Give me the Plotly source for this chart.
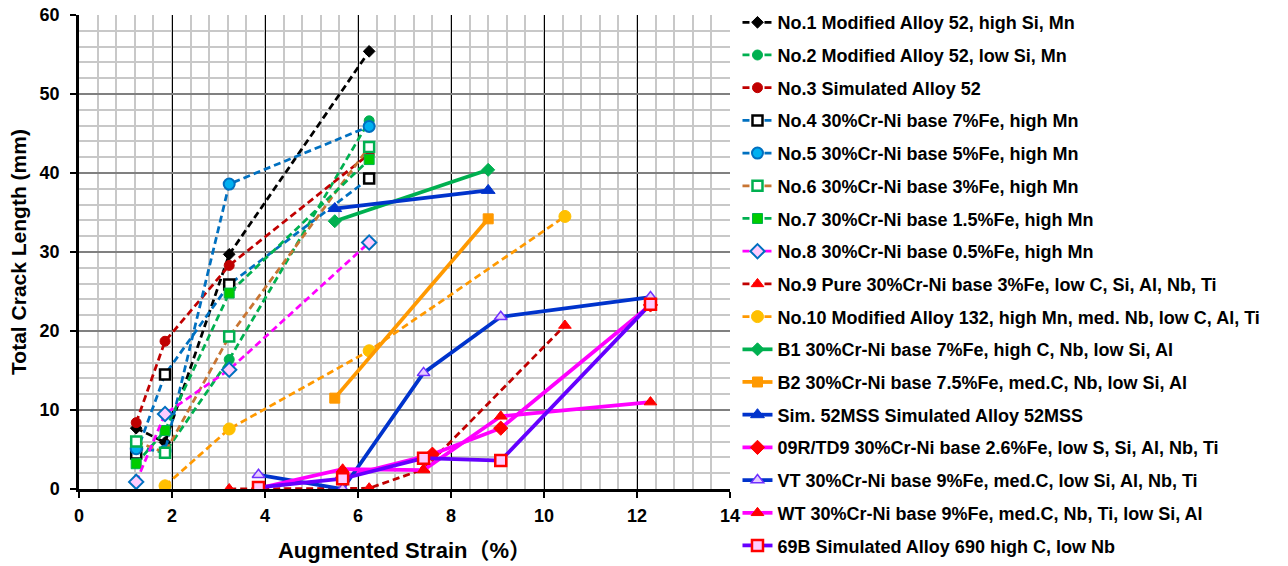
import plotly.graph_objects as go

# ---------------- data ----------------
names = [
    "No.1 Modified Alloy 52, high Si, Mn",
    "No.2 Modified Alloy 52, low Si, Mn",
    "No.3 Simulated Alloy 52",
    "No.4 30%Cr-Ni base 7%Fe, high Mn",
    "No.5 30%Cr-Ni base 5%Fe, high Mn",
    "No.6 30%Cr-Ni base 3%Fe, high Mn",
    "No.7 30%Cr-Ni base 1.5%Fe, high Mn",
    "No.8 30%Cr-Ni base 0.5%Fe, high Mn",
    "No.9 Pure 30%Cr-Ni base 3%Fe, low C, Si, Al, Nb, Ti",
    "No.10 Modified Alloy 132, high Mn, med. Nb, low C, Al, Ti",
    "B1 30%Cr-Ni base 7%Fe, high C, Nb, low Si, Al",
    "B2 30%Cr-Ni base 7.5%Fe, med.C, Nb, low Si, Al",
    "Sim. 52MSS Simulated Alloy 52MSS",
    "09R/TD9 30%Cr-Ni base 2.6%Fe, low S, Si, Al, Nb, Ti",
    "VT 30%Cr-Ni base 9%Fe, med.C, low Si, Al, Nb, Ti",
    "WT 30%Cr-Ni base 9%Fe, med.C, Nb, Ti, low Si, Al",
    "69B Simulated Alloy 690 high C, low Nb",
]

no1_x = [1.23, 1.85, 3.23, 6.24]
no1_y = [7.7, 5.9, 29.7, 55.4]
no2_x = [1.23, 1.85, 3.23, 6.24]
no2_y = [5.4, 4.6, 16.4, 46.6]
no3_x = [1.23, 1.85, 3.23, 6.24]
no3_y = [8.4, 18.7, 28.3, 42.4]
no4_x = [1.23, 1.85, 3.23, 6.24]
no4_y = [4.5, 14.5, 25.9, 39.3]
no5_x = [1.23, 1.85, 3.23, 6.24]
no5_y = [5.1, 4.8, 38.6, 45.9]
no6_x = [1.23, 1.85, 3.23, 6.24]
no6_y = [6.0, 4.6, 19.3, 43.3]
no7_x = [1.23, 1.85, 3.23, 6.24]
no7_y = [3.2, 7.4, 24.8, 41.7]
no8_x = [1.23, 1.85, 3.23, 6.24]
no8_y = [0.9, 9.5, 15.1, 31.2]
no9_x = [3.23, 6.24, 7.41, 10.45]
no9_y = [0.0, 0.1, 2.5, 20.7]
no10_x = [1.85, 3.23, 6.24, 10.45]
no10_y = [0.4, 7.6, 17.5, 34.5]
b1_x = [5.5, 8.8]
b1_y = [33.9, 40.4]
b2_x = [5.5, 8.8]
b2_y = [11.5, 34.2]
sim_x = [5.5, 8.8]
sim_y = [35.5, 37.8]
td9_x = [5.67, 7.6, 9.07, 12.29]
td9_y = [1.5, 4.4, 7.7, 23.3]
vt_x = [3.86, 5.67, 7.41, 9.07, 12.29]
vt_y = [1.8, 0.0, 14.7, 21.8, 24.3]
wt_x = [3.86, 5.67, 7.41, 9.07, 12.29]
wt_y = [0.1, 2.5, 2.4, 9.2, 11.0]
b69_x = [3.86, 5.67, 7.41, 9.07, 12.29]
b69_y = [0.2, 1.3, 3.9, 3.6, 23.4]

x_ticks = [0, 2, 4, 6, 8, 10, 12, 14]
y_ticks = [0, 10, 20, 30, 40, 50, 60]

# ---------------- styles ----------------
DASH = "7px,4px"
DW = 2.75
SW = 3.75
styles = [
    dict(x=no1_x, y=no1_y, lc="#000000", dash=DASH, lw=DW, sym="diamond", ms=9, mf="#000000", me="#000000", mw=1),
    dict(x=no2_x, y=no2_y, lc="#00B050", dash=DASH, lw=DW, sym="circle", ms=10, mf="#00B050", me="#00B050", mw=1),
    dict(x=no3_x, y=no3_y, lc="#C00000", dash=DASH, lw=DW, sym="circle", ms=10, mf="#C00000", me="#C00000", mw=1),
    dict(x=no4_x, y=no4_y, lc="#0070C0", dash=DASH, lw=DW, sym="square", ms=10, mf="#FFFFFF", me="#000000", mw=2.5),
    dict(x=no5_x, y=no5_y, lc="#0070C0", dash=DASH, lw=DW, sym="circle", ms=11, mf="#00B0F0", me="#0070C0", mw=2),
    dict(x=no6_x, y=no6_y, lc="#C87533", dash=DASH, lw=DW, sym="square", ms=10, mf="#FFFFFF", me="#00B050", mw=2.5),
    dict(x=no7_x, y=no7_y, lc="#00B050", dash=DASH, lw=DW, sym="square", ms=10, mf="#00CC00", me="#00B050", mw=1),
    dict(x=no8_x, y=no8_y, lc="#FF00FF", dash=DASH, lw=DW, sym="diamond", ms=11, mf="#FFCCFF", me="#0070C0", mw=2),
    dict(x=no9_x, y=no9_y, lc="#C00000", dash=DASH, lw=DW, sym="triangle-up", ms=11, mf="#FF0000", me="#FF0000", mw=1),
    dict(x=no10_x, y=no10_y, lc="#FF9900", dash=DASH, lw=DW, sym="circle", ms=12, mf="#FFC000", me="#FFC000", mw=1),
    dict(x=b1_x, y=b1_y, lc="#00B050", dash="solid", lw=SW, sym="diamond", ms=10, mf="#00B050", me="#00B050", mw=1),
    dict(x=b2_x, y=b2_y, lc="#FF9900", dash="solid", lw=SW, sym="square", ms=10, mf="#FF9900", me="#FF9900", mw=1),
    dict(x=sim_x, y=sim_y, lc="#0033CC", dash="solid", lw=SW, sym="triangle-up", ms=12, mf="#0033CC", me="#0033CC", mw=1),
    dict(x=td9_x, y=td9_y, lc="#FF00FF", dash="solid", lw=SW, sym="diamond", ms=11, mf="#FF0000", me="#FF0000", mw=1),
    dict(x=vt_x, y=vt_y, lc="#0033CC", dash="solid", lw=SW, sym="triangle-up", ms=11, mf="#E6CCFF", me="#7030FF", mw=1.5),
    dict(x=wt_x, y=wt_y, lc="#FF00FF", dash="solid", lw=SW, sym="triangle-up", ms=11, mf="#FF0000", me="#FF0000", mw=1),
    dict(x=b69_x, y=b69_y, lc="#6600FF", dash="solid", lw=SW, sym="square", ms=11, mf="#FFCCFF", me="#FF0000", mw=2.5),
]

FONT = "Liberation Sans, Arial, sans-serif"

fig = go.Figure()
for i, (nm, s) in enumerate(zip(names, styles)):
    fig.add_trace(go.Scatter(
        x=s["x"], y=s["y"], name=nm, mode="lines+markers",
        legendgroup="g%d" % i,
        line=dict(color=s["lc"], width=s["lw"], dash=s["dash"]),
        marker=dict(symbol=s["sym"], size=s["ms"], color=s["mf"],
                    line=dict(color=s["me"], width=s["mw"])),
    ))

fig.update_layout(
    width=1288, height=566,
    margin=dict(l=79, r=558, t=15, b=76.5, autoexpand=False),
    paper_bgcolor="white", plot_bgcolor="white",
    font=dict(family=FONT, color="black"),
    legend=dict(
        x=1.0115, xanchor="left", y=1.023, yanchor="top",
        font=dict(family=FONT, size=18, weight="bold", color="black"),
        tracegroupgap=6.3, itemwidth=30, maxheight=1.0,
        bgcolor="rgba(0,0,0,0)",
    ),
    xaxis=dict(
        range=[0, 14], tickvals=x_ticks, ticktext=[str(v) for v in x_ticks],
        showgrid=True, gridcolor="#000000", gridwidth=1,
        minor=dict(dtick=0.4, tick0=0, showgrid=True, gridcolor="#C8C8C8", gridwidth=1.5),
        showline=True, linecolor="black", linewidth=2.5,
        ticks="outside", ticklen=6, tickwidth=2, tickcolor="black",
        ticklabelstandoff=3, ticklabeloverflow="allow",
        tickfont=dict(family=FONT, size=18, weight="bold"),
        zeroline=False,
        title=dict(text="Augmented Strain（%）", standoff=18,
                   font=dict(family=FONT + ", Noto Sans CJK SC", size=22, weight="bold")),
    ),
    yaxis=dict(
        range=[0, 60], tickvals=y_ticks, ticktext=[str(v) for v in y_ticks],
        showgrid=True, gridcolor="#808080", gridwidth=1.5,
        minor=dict(dtick=2, tick0=0, showgrid=True, gridcolor="#C8C8C8", gridwidth=1.5),
        showline=True, linecolor="black", linewidth=2.5,
        ticks="outside", ticklen=6, tickwidth=2, tickcolor="black",
        ticklabelstandoff=7, ticklabeloverflow="allow",
        tickfont=dict(family=FONT, size=18, weight="bold"),
        zeroline=False,
        title=dict(text="Total Crack Length (mm)", standoff=8,
                   font=dict(family=FONT, size=21, weight="bold")),
    ),
)

fig.write_html(
    "out.html",
    config={"displayModeBar": False},
    post_script="document.body.style.margin='0';document.body.style.overflow='hidden';",
)
